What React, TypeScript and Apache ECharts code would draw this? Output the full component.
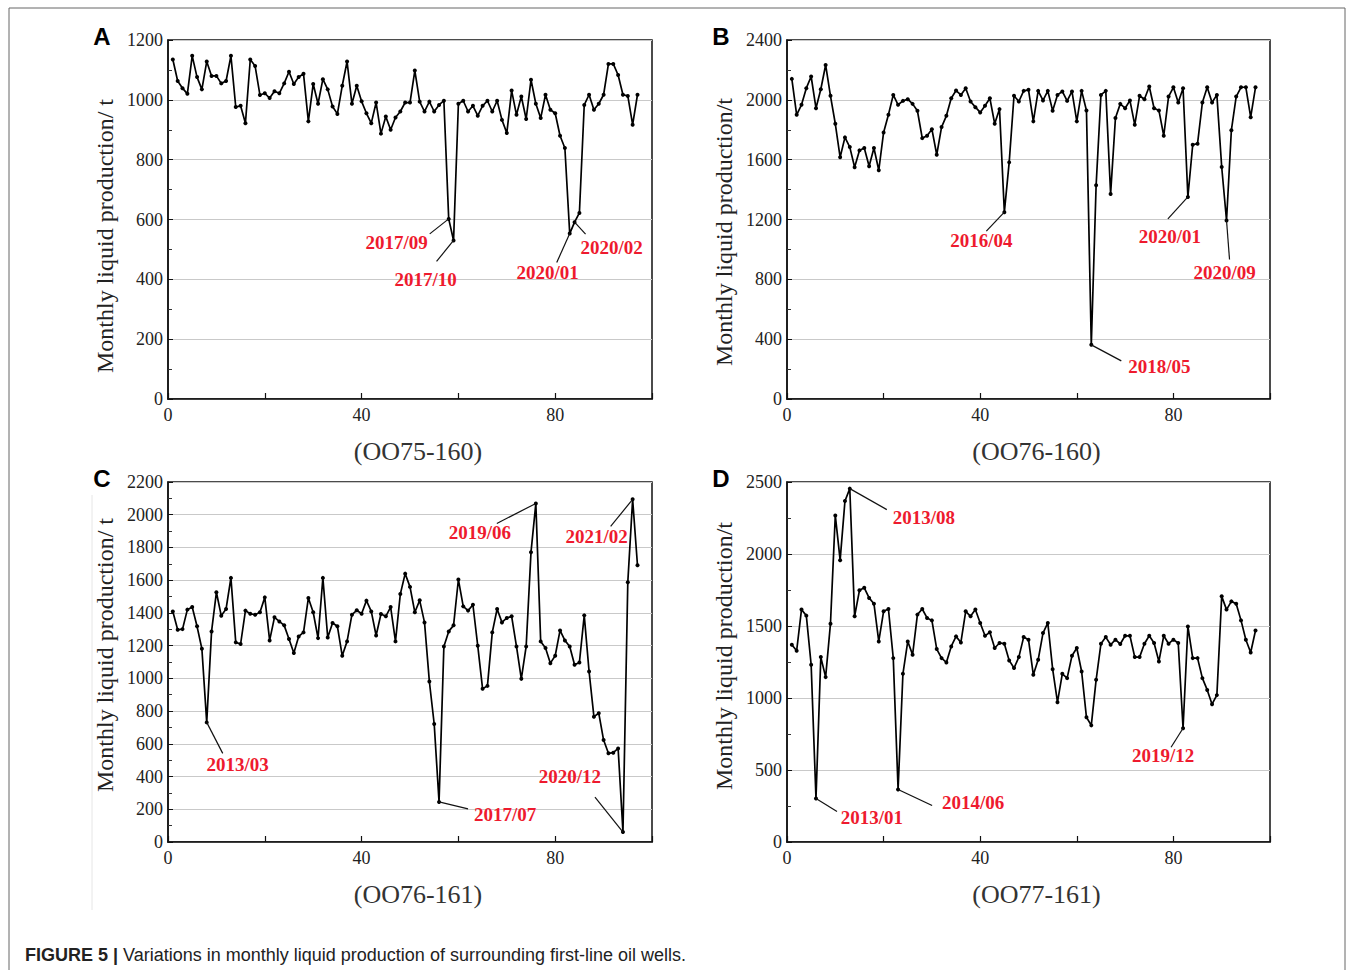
import React, { useEffect, useRef } from 'react';
import * as echarts from 'echarts';

// month index (x axis)
const MONTHS: number[] = Array.from({ length: 97 }, (_, i) => i + 1);

// Monthly liquid production (t)
const wellA = [1135, 1063, 1039, 1020, 1147, 1076, 1035, 1128, 1080, 1080, 1055, 1063, 1147, 976, 980, 922, 1135, 1113, 1016, 1022,
  1006, 1029, 1022, 1055, 1094, 1053, 1076, 1087, 928, 1053, 987, 1069, 1035, 978, 953, 1047, 1128, 987, 1047, 995,
  955, 922, 991, 887, 944, 900, 941, 961, 991, 991, 1098, 994, 961, 994, 961, 983, 997, 602, 530, 987,
  997, 961, 980, 947, 980, 997, 961, 997, 933, 889, 1031, 950, 1011, 936, 1067, 987, 939, 1017, 967, 955,
  880, 839, 553, 591, 622, 983, 1017, 967, 987, 1017, 1120, 1120, 1083, 1017, 1013, 917, 1017];

const wellB = [2140, 1900, 1967, 2078, 2156, 1944, 2071, 2233, 2027, 1840, 1616, 1749, 1684, 1549, 1662, 1678, 1556, 1678, 1529, 1782,
  1900, 2033, 1967, 1993, 2004, 1973, 1927, 1744, 1760, 1804, 1633, 1818, 1893, 2011, 2062, 2033, 2078, 1989, 1951, 1916,
  1960, 2011, 1840, 1938, 1249, 1582, 2027, 1989, 2060, 2067, 1856, 2060, 1996, 2060, 1927, 2033, 2056, 1993, 2056, 1856,
  2060, 1929, 362, 1429, 2033, 2060, 1371, 1878, 1973, 1944, 1996, 1833, 2027, 2004, 2089, 1944, 1929, 1760, 2022, 2084,
  1982, 2078, 1351, 1700, 1707, 1982, 2084, 1982, 2033, 1551, 1193, 1796, 2022, 2084, 2084, 1884, 2084];

const wellC = [1409, 1297, 1301, 1420, 1436, 1318, 1181, 731, 1287, 1526, 1383, 1424, 1614, 1220, 1210, 1414, 1395, 1389, 1404, 1495,
  1232, 1373, 1348, 1324, 1240, 1155, 1256, 1281, 1491, 1404, 1246, 1614, 1250, 1338, 1318, 1138, 1226, 1389, 1416, 1395,
  1475, 1409, 1262, 1393, 1379, 1436, 1226, 1515, 1640, 1559, 1404, 1477, 1342, 981, 721, 245, 1195, 1287, 1324, 1604,
  1440, 1414, 1450, 1199, 936, 954, 1281, 1424, 1342, 1369, 1379, 1195, 997, 1195, 1771, 2069, 1226, 1185, 1093, 1138,
  1293, 1232, 1195, 1083, 1097, 1385, 1042, 766, 787, 623, 542, 546, 572, 61, 1587, 2094, 1691];

const wellD = [1370, 1328, 1614, 1572, 1231, 302, 1284, 1145, 1516, 2268, 1957, 2368, 2454, 1567, 1748, 1765, 1695, 1655, 1393, 1602,
  1618, 1277, 365, 1168, 1393, 1300, 1579, 1618, 1556, 1539, 1340, 1277, 1247, 1358, 1428, 1386, 1602, 1567, 1614, 1521,
  1432, 1456, 1347, 1382, 1377, 1261, 1208, 1284, 1423, 1405, 1161, 1265, 1451, 1521, 1200, 971, 1168, 1138, 1293, 1347,
  1184, 866, 810, 1126, 1377, 1423, 1370, 1405, 1375, 1432, 1432, 1284, 1284, 1377, 1432, 1382, 1254, 1432, 1377, 1405,
  1382, 790, 1497, 1277, 1277, 1138, 1056, 957, 1020, 1706, 1614, 1671, 1655, 1539, 1405, 1316, 1469];

// annotated months: [month index, label]
const notesA: [number, string][] = [[58, '2017/09'], [59, '2017/10'], [83, '2020/01'], [84, '2020/02']];
const notesB: [number, string][] = [[45, '2016/04'], [63, '2018/05'], [83, '2020/01'], [91, '2020/09']];
const notesC: [number, string][] = [[8, '2013/03'], [56, '2017/07'], [76, '2019/06'], [96, '2021/02'], [94, '2020/12']];
const notesD: [number, string][] = [[6, '2013/01'], [13, '2013/08'], [23, '2014/06'], [82, '2019/12']];

const wellNames = ['(OO75-160)', '(OO76-160)', '(OO76-161)', '(OO77-161)'];
const panelLetters = ['A', 'B', 'C', 'D'];
const yTitles = ['Monthly liquid production/ t', 'Monthly liquid production/t', 'Monthly liquid production/ t', 'Monthly liquid production/t'];
const yMaxes = [1200, 2400, 2200, 2500];
const yIntervals = [200, 400, 200, 500];
const xTickLabels = [0, 40, 80];

// ---- layout (pixels) ----
const grids = [
  { left: 168, top: 40, width: 484, height: 359 },
  { left: 787, top: 40, width: 483, height: 359 },
  { left: 168, top: 482, width: 484, height: 360 },
  { left: 787, top: 482, width: 483, height: 360 },
];
const titleCentreY = [236, 232, 655, 656];
// leader end offset and label-centre offset relative to the annotated point
const noteLayout: [number, number, number, number][][] = [
  [[-19, 15, -52, 24], [-17, 21, -28, 39], [-13, 29, -22, 39], [11, 12, 37, 25]],
  [[-18, 19, -23, 28], [30, 16, 68, 22], [-20, 22, -18, 40], [3, 39, -2, 52]],
  [[16, 31, 31, 42], [29, 7, 66, 13], [-39, 20, -56, 29], [-22, 27, -36, 37], [-28, -35, -53, -56]],
  [[21, 13, 56, 19], [37, 21, 74, 29], [34, 16, 75, 13], [-12, 19, -20, 27]],
];

const SERIF = 'Liberation Serif';
const SANS = 'Liberation Sans';
const RED = '#ee1a2e';

export default function App() {
  const ref = useRef<HTMLDivElement>(null);

  useEffect(() => {
    if (!ref.current) return;
    const chart = echarts.init(ref.current, null, { renderer: 'svg' });
    const seriesValues = [wellA, wellB, wellC, wellD];
    const notes = [notesA, notesB, notesC, notesD];

    const option: any = {
      animation: false,
      backgroundColor: '#fff',
      textStyle: { fontFamily: SERIF },
      grid: grids.map((g) => ({ ...g, show: true, borderColor: '#111', borderWidth: 1.5, backgroundColor: 'transparent', containLabel: false })),
      xAxis: grids.map((_, k) => ({
        type: 'value',
        gridIndex: k,
        min: 0,
        max: 100,
        interval: 20,
        axisLine: { show: true, lineStyle: { color: '#111', width: 1.5 } },
        axisTick: { show: true, inside: true, length: 6, lineStyle: { color: '#111', width: 1.2 } },
        splitLine: { show: false },
        axisLabel: {
          color: '#222', fontSize: 18, fontFamily: SERIF, margin: 7,
          formatter: (v: number) => (xTickLabels.includes(v) ? String(v) : ''),
        },
      })),
      yAxis: grids.map((_, k) => ({
        type: 'value',
        gridIndex: k,
        min: 0,
        max: yMaxes[k],
        interval: yIntervals[k],
        axisLine: { show: true, lineStyle: { color: '#111', width: 1.5 } },
        axisTick: { show: true, inside: true, length: 5, lineStyle: { color: '#111', width: 1 } },
        minorTick: { show: true, splitNumber: 2, length: 4, lineStyle: { color: '#333', width: 1 } },
        splitLine: { show: true, lineStyle: { color: '#c9c9c9', width: 1 } },
        axisLabel: { color: '#222', fontSize: 18, fontFamily: SERIF, margin: 5, formatter: (v: number) => String(v) },
      })),
      series: seriesValues.map((vals, k) => ({
        type: 'line',
        xAxisIndex: k,
        yAxisIndex: k,
        data: vals.map((v, i) => [MONTHS[i], v]),
        symbol: 'circle',
        symbolSize: 4,
        lineStyle: { color: '#000', width: 1.7 },
        itemStyle: { color: '#000' },
        z: 3,
      })),
    };
    chart.setOption(option);

    const graphic: any[] = [];
    // outer frame
    graphic.push({ type: 'rect', shape: { x: 9, y: 8, width: 1336, height: 1000 }, style: { fill: 'none', stroke: '#666', lineWidth: 1 }, silent: true });
    graphic.push({ type: 'line', shape: { x1: 92, y1: 495, x2: 92, y2: 910 }, style: { stroke: '#e6e6e6', lineWidth: 1 } });

    grids.forEach((g, k) => {
      const cx = g.left + g.width / 2;
      // panel letter
      graphic.push({
        type: 'text', x: g.left - 66, y: g.top - 4,
        style: { text: panelLetters[k], fontSize: 24, fontWeight: 'bold', fontFamily: SANS, fill: '#000', textAlign: 'center', textVerticalAlign: 'middle' },
      });
      // y title
      graphic.push({
        type: 'text', x: g.left - 63, y: titleCentreY[k], rotation: Math.PI / 2,
        style: { text: yTitles[k], fontSize: 24, fontFamily: SERIF, fill: '#222', textAlign: 'center', textVerticalAlign: 'middle' },
      });
      // well name
      graphic.push({
        type: 'text', x: cx + 8, y: g.top + g.height + 52,
        style: { text: wellNames[k], fontSize: 26, fontFamily: SERIF, fill: '#333', textAlign: 'center', textVerticalAlign: 'middle' },
      });
      // annotations
      notes[k].forEach(([m, label], j) => {
        const vals = seriesValues[k];
        const p = chart.convertToPixel({ gridIndex: k }, [m, vals[m - 1]]) as number[];
        const [lx, ly, tx, ty] = noteLayout[k][j];
        graphic.push({
          type: 'line', z: 10,
          shape: { x1: p[0], y1: p[1], x2: p[0] + lx, y2: p[1] + ly },
          style: { stroke: '#111', lineWidth: 1.2 },
        });
        graphic.push({
          type: 'text', z: 11, x: p[0] + tx, y: p[1] + ty,
          style: { text: label, fontSize: 19, fontWeight: 'bold', fontFamily: SERIF, fill: RED, textAlign: 'center', textVerticalAlign: 'middle' },
        });
      });
    });

    // caption
    graphic.push({
      type: 'text', x: 25, y: 955,
      style: {
        text: '{b|FIGURE 5 |} Variations in monthly liquid production of surrounding first-line oil wells.',
        fontSize: 18, fontFamily: SANS, fill: '#222', textVerticalAlign: 'middle',
        rich: { b: { fontWeight: 'bold', fontSize: 18, fontFamily: SANS, fill: '#222' } },
      },
    });

    chart.setOption({ graphic });
    return () => chart.dispose();
  }, []);

  return <div ref={ref} style={{ position: 'absolute', left: 0, top: 0, width: 1355, height: 970, background: '#fff' }} />;
}
